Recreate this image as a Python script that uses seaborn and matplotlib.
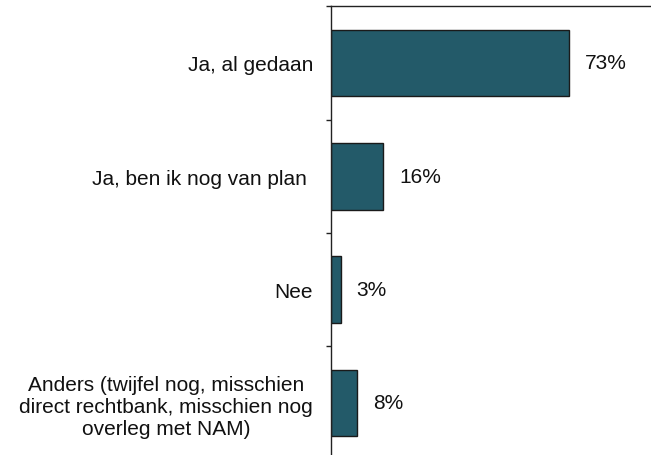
import matplotlib
matplotlib.use("Agg")
import matplotlib.pyplot as plt
import seaborn as sns
import pandas as pd

sns.set_theme(style="white")
plt.rcParams['font.family'] = ['Liberation Sans', 'DejaVu Sans']

categories = [
    "Ja, al gedaan",
    "Ja, ben ik nog van plan ",
    "Nee",
    "Anders (twijfel nog, misschien\ndirect rechtbank, misschien nog\noverleg met NAM)",
]
values = [73, 16, 3, 8]
value_labels = ["73%", "16%", "3%", "8%"]

df = pd.DataFrame({"antwoord": categories, "pct": values})

fig = plt.figure(figsize=(6.51, 4.56), dpi=100)
ax = fig.add_axes([0.5084, -0.0102, 0.5, 0.9942])

sns.barplot(data=df, x="pct", y="antwoord", orient="h", color="#235a69",
            saturation=1, edgecolor="#1a1a1a", linewidth=1.0, width=0.59, ax=ax)

ax.set_xlim(0, 99.8)
ax.set_ylim(3.5, -0.5)
ax.set_xlabel("")
ax.set_ylabel("")
ax.set_xticks([])

ax.set_yticks(range(len(categories)))
ax.set_yticklabels(categories, fontsize=15, color="#111111", ha="right",
                   multialignment="center")
ax.tick_params(axis="y", which="major", length=0, pad=13)
ax.set_yticks([-0.5, 0.5, 1.5, 2.5], minor=True)
ax.tick_params(axis="y", which="minor", length=3.6, width=1, color="#222222",
               direction="out", left=True)

ax.bar_label(ax.containers[0], labels=value_labels, padding=11.5, fontsize=15,
             color="#111111")

for side in ["right", "bottom"]:
    ax.spines[side].set_visible(False)
ax.spines["left"].set_color("#222222")
ax.spines["top"].set_color("#222222")
ax.spines["left"].set_linewidth(1)
ax.spines["top"].set_linewidth(1)

fig.savefig("out.png", dpi=100)
